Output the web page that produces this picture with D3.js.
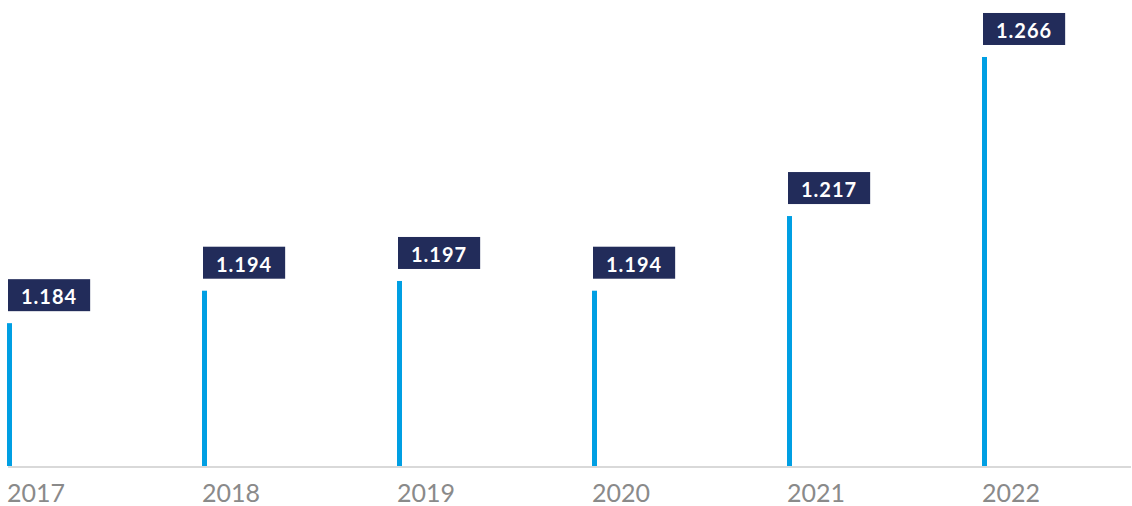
<!DOCTYPE html>
<meta charset="utf-8">
<head>
<title>Yearly values</title>
<style>
body { margin: 0; background: #fff; }
.year { font-family: Lato, "Noto Sans", sans-serif; font-size: 25px; fill: #8a8a8a; }
.val { font-family: Lato, "Noto Sans", sans-serif; font-size: 20px; font-weight: bold; fill: #fff; letter-spacing: 1px; }
</style>
</head>
<body>
<script src="https://cdn.jsdelivr.net/npm/d3@7"></script>
<script>

var years = ["2017", "2018", "2019", "2020", "2021", "2022"];
var values = [1.184, 1.194, 1.197, 1.194, 1.217, 1.266];
var labels = ["1.184", "1.194", "1.197", "1.194", "1.217", "1.266"];

var width = 1132,
    height = 506,
    baseY = 466,
    barW = 5;

var svg = d3.select("body").append("svg")
    .attr("width", width)
    .attr("height", height);

var x = d3.scaleBand()
    .domain(years)
    .range([7, 7 + 6 * 195]);

var y = d3.scaleLinear()
    .domain([1.14, 1.27])
    .range([baseY, 44]);

// baseline
svg.append("line")
    .attr("x1", 8).attr("x2", 1131)
    .attr("y1", baseY + 1).attr("y2", baseY + 1)
    .attr("stroke", "#d9d9d9")
    .attr("stroke-width", 2);

var g = svg.selectAll(".item")
    .data(years)
    .enter().append("g")
    .attr("class", "item");

g.append("rect")
    .attr("x", function(d) { return x(d); })
    .attr("y", function(d, i) { return y(values[i]); })
    .attr("width", barW)
    .attr("height", function(d, i) { return baseY - y(values[i]); })
    .attr("fill", "#009fe3");

g.append("text")
    .attr("class", "year")
    .attr("x", function(d) { return x(d); })
    .attr("y", 502)
    .text(function(d) { return d; });

// value boxes
var box = g.append("rect")
    .attr("fill", "#222c5a");

var txt = g.append("text")
    .attr("class", "val")
    .attr("x", function(d) { return x(d) + 14; })
    .attr("y", function(d, i) { return y(values[i]) - 19; })
    .text(function(d, i) { return labels[i]; });

txt.each(function(d, i) {
  var w = this.getComputedTextLength();
  d3.select(box.nodes()[i])
    .attr("x", x(d) + 1)
    .attr("y", y(values[i]) - 44)
    .attr("width", w + 26)
    .attr("height", 32);
});

</script>
